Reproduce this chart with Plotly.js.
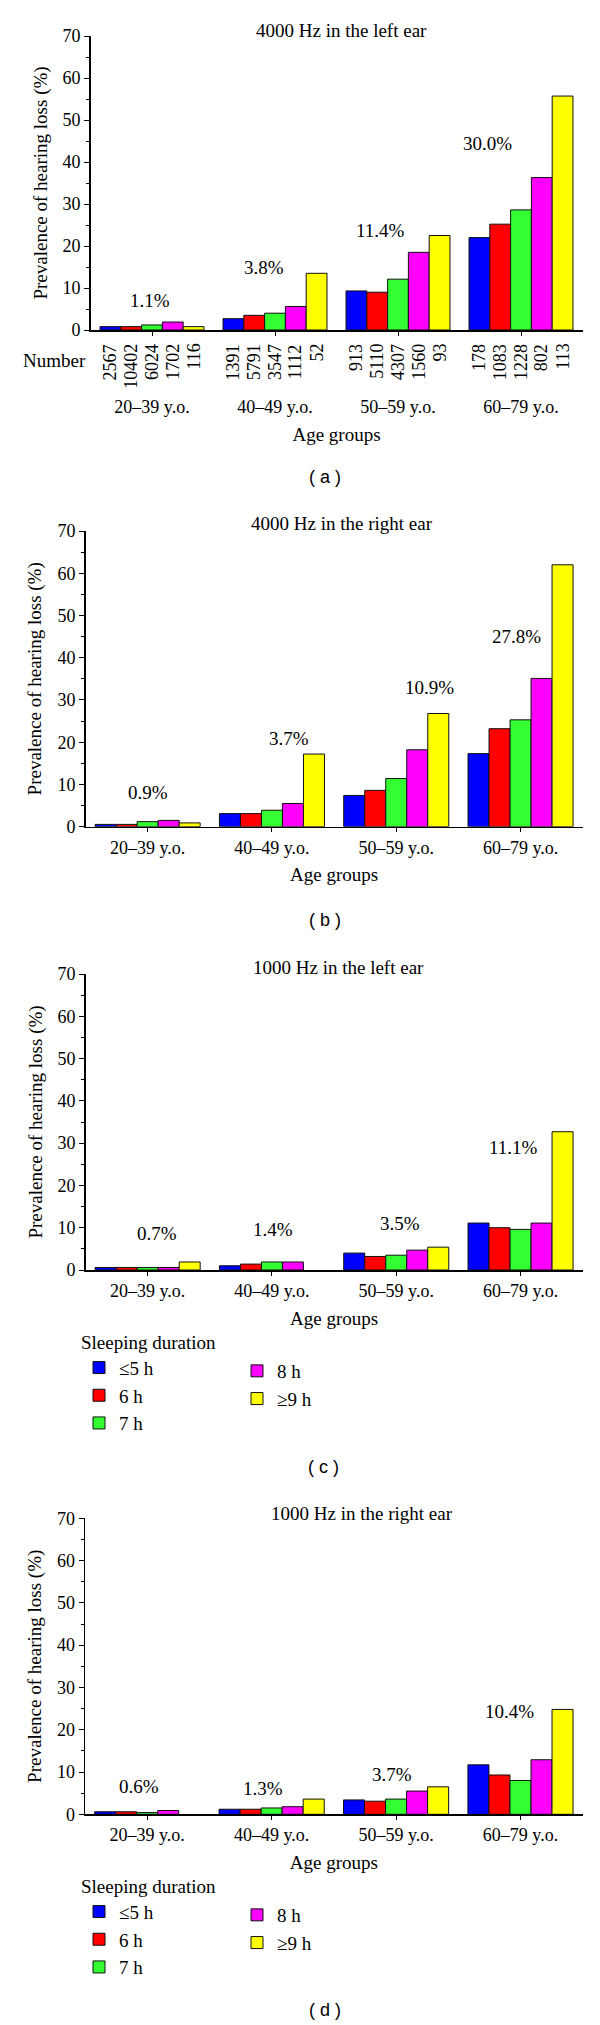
<!DOCTYPE html>
<html>
<head>
<meta charset="utf-8">
<script src="https://cdn.plot.ly/plotly-3.0.1.min.js"></script>
<style>
  html, body { margin: 0; padding: 0; background: #fff; }
  #chart { width: 600px; height: 2025px; }
</style>
</head>
<body>
<div id="chart"></div>
<script>
// ---------------- DATA ----------------
const ageGroups = ['20\u201339 y.o.', '40\u201349 y.o.', '50\u201359 y.o.', '60\u201379 y.o.'];
const sleepGroups = ['\u22645 h', '6 h', '7 h', '8 h', '\u22659 h'];

// prevalence (%) by sleeping duration (rows) and age group (columns)
const left4000 = [
  [0.8, 2.7, 9.3, 22.0],
  [0.8, 3.5, 9.0, 25.2],
  [1.2, 4.0, 12.1, 28.6],
  [1.9, 5.6, 18.5, 36.3],
  [0.8, 13.5, 22.5, 55.7]
];
const right4000 = [
  [0.55, 3.1, 7.4, 17.3],
  [0.55, 3.1, 8.6, 23.2],
  [1.2, 3.9, 11.4, 25.3],
  [1.5, 5.5, 18.2, 35.1],
  [0.9, 17.2, 26.8, 62.0]
];
const left1000 = [
  [0.6, 1.0, 4.0, 11.1],
  [0.6, 1.4, 3.2, 10.0],
  [0.6, 1.9, 3.5, 9.6],
  [0.6, 1.9, 4.7, 11.1],
  [1.9, null, 5.4, 32.7]
];
const right1000 = [
  [0.6, 1.2, 3.4, 11.7],
  [0.6, 1.2, 3.1, 9.3],
  [0.4, 1.5, 3.6, 8.0],
  [0.9, 1.8, 5.5, 12.9],
  [null, 3.6, 6.5, 24.8]
];

// overall prevalence per age group (%)
const overallLeft4000 = [1.1, 3.8, 11.4, 30.0];
const overallRight4000 = [0.9, 3.7, 10.9, 27.8];
const overallLeft1000 = [0.7, 1.4, 3.5, 11.1];
const overallRight1000 = [0.6, 1.3, 3.7, 10.4];

// number of subjects by sleeping duration (rows) and age group (columns)
const subjectNumbers = [
  [2567, 1391, 913, 178],
  [10402, 5791, 5110, 1083],
  [6024, 3547, 4307, 1228],
  [1702, 1112, 1560, 802],
  [116, 52, 93, 113]
];

// ---------------- STYLE / LAYOUT ----------------
const W = 600, H = 2025;
const px = v => v / W;
const py = v => 1 - v / H;
const SERIF = 'Liberation Serif, Times New Roman, serif';
const SANS = 'Liberation Sans, Arial, sans-serif';
const colors = ['#0000ff', '#ff0000', '#33ff33', '#ff00ff', '#ffff00'];
const BARGAP = 0.155;
const catX = ageGroups.map((_, i) => i);

const panels = [
  { data: left4000, overall: overallLeft4000, title: '4000 Hz in the left ear', tag: '( a )',
    xdom: [90.5, 582.5], ydom: [36, 330], titlePos: [342, 30], tagPos: [325, 477],
    lblY: [7.1, 14.8, 23.8, 44.5], lblDX: [-0.016, -0.088, -0.144, -0.27],
    tickStandoff: 56, legends: null },
  { data: right4000, overall: overallRight4000, title: '4000 Hz in the right ear', tag: '( b )',
    xdom: [85.5, 582.7], ydom: [531, 826.7], titlePos: [342, 523], tagPos: [325, 920],
    lblY: [8.1, 20.8, 32.9, 45.1], lblDX: [0, 0.14, 0.27, -0.03],
    tickStandoff: 0, legends: null },
  { data: left1000, overall: overallLeft1000, title: '1000 Hz in the left ear', tag: '( c )',
    xdom: [85.5, 582.7], ydom: [974, 1270], titlePos: [338.5, 967], tagPos: [323, 1467],
    lblY: [8.7, 9.6, 10.9, 29.0], lblDX: [0.075, 0.01, 0.03, -0.06],
    tickStandoff: 0, legends: ['legend', 'legend2'], legTop: 1324 },
  { data: right1000, overall: overallRight1000, title: '1000 Hz in the right ear', tag: '( d )',
    xdom: [85, 582.7], ydom: [1518.3, 1814.3], titlePos: [361.5, 1513], tagPos: [325, 2010],
    lblY: [6.5, 6.1, 9.3, 24.3], lblDX: [-0.07, -0.07, -0.03, -0.09],
    tickStandoff: 0, legends: ['legend3', 'legend4'], legTop: 1868 }
];

const traces = [];
const annotations = [];
const layout = {
  width: W, height: H,
  margin: { l: 0, r: 0, t: 0, b: 0 },
  paper_bgcolor: '#ffffff', plot_bgcolor: '#ffffff',
  font: { family: SERIF, size: 19, color: '#000' },
  barmode: 'group', bargap: BARGAP, bargroupgap: 0,
  showlegend: true,
  annotations: annotations
};

panels.forEach((p, k) => {
  const sfx = k === 0 ? '' : String(k + 1);
  const xa = 'x' + sfx, ya = 'y' + sfx;
  p.data.forEach((series, j) => {
    const t = {
      type: 'bar', x: catX, y: series, name: sleepGroups[j],
      xaxis: xa, yaxis: ya,
      marker: { color: colors[j], line: { color: '#111', width: 1 } },
      showlegend: !!p.legends, hoverinfo: 'y+name'
    };
    if (p.legends) t.legend = j < 3 ? p.legends[0] : p.legends[1];
    traces.push(t);
  });

  layout['xaxis' + sfx] = {
    domain: [px(p.xdom[0]), px(p.xdom[1])], anchor: ya,
    range: [-0.5, 3.5], tickvals: catX, ticktext: ageGroups,
    ticks: 'outside', ticklen: 4, tickwidth: 1, tickcolor: '#000',
    showline: true, linecolor: '#000', linewidth: 1.5,
    showgrid: false, zeroline: false, fixedrange: true,
    ticklabelstandoff: p.tickStandoff,
    tickfont: { family: SERIF, size: 18, color: '#000' },
    title: { text: 'Age groups', font: { family: SERIF, size: 19, color: '#000' }, standoff: 11 }
  };
  layout['yaxis' + sfx] = {
    domain: [py(p.ydom[1]), py(p.ydom[0])], anchor: xa,
    range: [0, 70], dtick: 10, tick0: 0,
    ticks: 'outside', ticklen: 5, tickwidth: 1, tickcolor: '#000',
    minor: { dtick: 5, ticks: 'outside', ticklen: 3, tickwidth: 1, tickcolor: '#000', showgrid: false },
    showline: true, linecolor: '#000', linewidth: 1.5,
    showgrid: false, zeroline: false, fixedrange: true,
    tickfont: { family: SERIF, size: 18, color: '#000' },
    title: { text: 'Prevalence of hearing loss (%)', font: { family: SERIF, size: 19, color: '#000' }, standoff: 10 }
  };

  // panel title
  annotations.push({ xref: 'paper', yref: 'paper', x: px(p.titlePos[0]), y: py(p.titlePos[1]),
    xanchor: 'center', yanchor: 'middle', showarrow: false, text: p.title,
    font: { family: SERIF, size: 19, color: '#000' } });
  // panel tag
  annotations.push({ xref: 'paper', yref: 'paper', x: px(p.tagPos[0]), y: py(p.tagPos[1]),
    xanchor: 'center', yanchor: 'middle', showarrow: false, text: p.tag,
    font: { family: SANS, size: 18, color: '#000' } });
  // overall prevalence labels
  p.overall.forEach((v, i) => {
    annotations.push({ xref: xa, yref: ya, x: i + p.lblDX[i], y: p.lblY[i],
      xanchor: 'center', yanchor: 'middle', showarrow: false, text: v.toFixed(1) + '%',
      font: { family: SERIF, size: 19, color: '#000' } });
  });

  if (p.legends) {
    const top = p.legTop;
    layout[p.legends[0]] = {
      x: px(79), xanchor: 'left', y: py(top), yanchor: 'top', orientation: 'v',
      bgcolor: 'rgba(0,0,0,0)', borderwidth: 0, traceorder: 'normal',
      title: { text: 'Sleeping duration', font: { family: SERIF, size: 19, color: '#000' } },
      font: { family: SERIF, size: 19, color: '#000' }
    };
    layout[p.legends[1]] = {
      x: px(237), xanchor: 'left', y: py(top + 28), yanchor: 'top', orientation: 'v',
      bgcolor: 'rgba(0,0,0,0)', borderwidth: 0, traceorder: 'normal',
      font: { family: SERIF, size: 19, color: '#000' }
    };
  }
});

// "Number" row for panel (a)
const barW = (1 - BARGAP) / sleepGroups.length;
annotations.push({ xref: 'paper', yref: 'paper', x: px(54), y: py(360),
  xanchor: 'center', yanchor: 'middle', showarrow: false, text: 'Number',
  font: { family: SERIF, size: 19, color: '#000' } });
subjectNumbers.forEach((row, j) => {
  row.forEach((n, i) => {
    annotations.push({ xref: 'x', yref: 'paper', x: i + (j - 2) * barW, y: py(342),
      xanchor: 'center', yanchor: 'top', textangle: -90, showarrow: false, text: String(n),
      font: { family: SERIF, size: 18, color: '#000' } });
  });
});

Plotly.newPlot('chart', traces, layout, { staticPlot: true, displayModeBar: false });
</script>
</body>
</html>
